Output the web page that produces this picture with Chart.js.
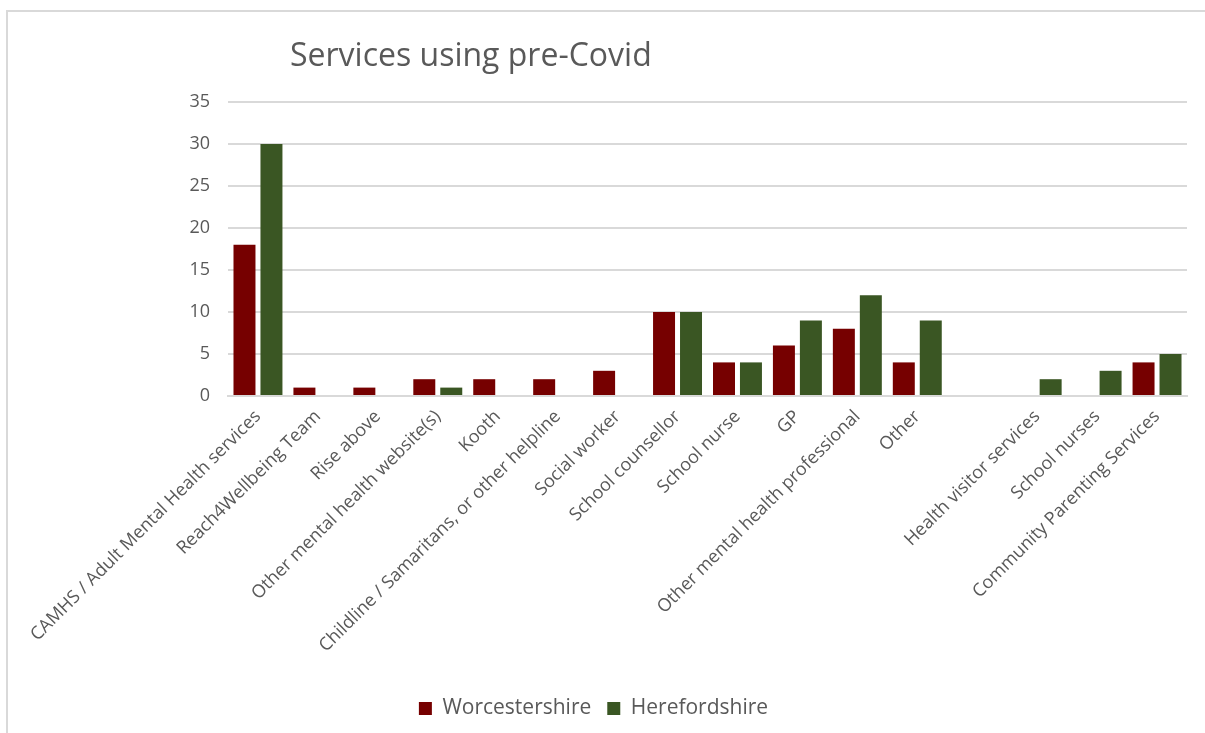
<!DOCTYPE html>
<html>
<head>
<meta charset="utf-8">
<title>Services using pre-Covid</title>
<script src="https://cdn.jsdelivr.net/npm/chart.js@4"></script>
<style>
  body { margin: 0; background: #fff; }
  .frame {
    position: absolute; left: 6px; top: 10px; width: 1205px; height: 733px;
    border-left: 2px solid #d9d9d9; border-top: 2px solid #d9d9d9;
  }
  .wrap { position: absolute; left: 0; top: 0; width: 1205px; height: 733px; }
</style>
</head>
<body>
<div class="frame"></div>
<div class="wrap"><canvas id="myChart"></canvas></div>
<script>
const chartTitle = 'Services using pre-Covid';

// blank entry keeps the gap before the last three services
const services = [
    'CAMHS / Adult Mental Health services',
    'Reach4Wellbeing Team',
    'Rise above',
    'Other mental health website(s)',
    'Kooth',
    'Childline / Samaritans, or other helpline',
    'Social worker',
    'School counsellor',
    'School nurse',
    'GP',
    'Other mental health professional',
    'Other',
    '',
    'Health visitor services',
    'School nurses',
    'Community Parenting Services'
];

const worcestershire = [18, 1, 1, 2, 2, 2, 3, 10, 4, 6, 8, 4, null, null, null, 4];
const herefordshire  = [30, null, null, 1, null, null, null, 10, 4, 9, 12, 9, null, 2, 3, 5];

const yTicks = [0, 5, 10, 15, 20, 25, 30, 35];

const textGrey = '#595959';
const gridGrey = '#d9d9d9';

const titlePlugin = {
    id: 'leftTitle',
    afterDraw(chart) {
        const c = chart.ctx;
        c.save();
        c.fillStyle = textGrey;
        c.font = '32px "Open Sans"';
        c.textBaseline = 'alphabetic';
        c.fillText(chartTitle, 290, 66);
        c.restore();
    }
};

const ctx = document.getElementById('myChart');

new Chart(ctx, {
    type: 'bar',
    data: {
        labels: services,
        datasets: [{
            label: 'Worcestershire',
            data: worcestershire,
            backgroundColor: '#760000',
            categoryPercentage: 0.9,
            barPercentage: 0.815
        }, {
            label: 'Herefordshire',
            data: herefordshire,
            backgroundColor: '#3a5623',
            categoryPercentage: 0.9,
            barPercentage: 0.815
        }]
    },
    options: {
        responsive: true,
        maintainAspectRatio: false,
        animation: false,
        layout: { padding: { top: 102, right: 18, left: 0, bottom: 4 } },
        plugins: {
            title: { display: false },
            tooltip: { enabled: false },
            legend: {
                position: 'bottom',
                labels: {
                    color: textGrey,
                    font: { family: 'Open Sans', size: 21 },
                    boxWidth: 13,
                    boxHeight: 13,
                    padding: 16
                }
            }
        },
        scales: {
            x: {
                grid: { display: false },
                border: { display: true, color: gridGrey, width: 2 },
                ticks: {
                    color: textGrey,
                    font: { family: 'Open Sans', size: 18 },
                    maxRotation: 45,
                    minRotation: 45,
                    autoSkip: false,
                    padding: 2
                },
                afterFit(scale) {
                    scale.height = 286;
                    scale.paddingLeft = 0;
                    scale.paddingRight = 0;
                }
            },
            y: {
                min: 0,
                max: 35,
                afterBuildTicks(scale) {
                    scale.ticks = yTicks.map(v => ({ value: v }));
                },
                grid: { color: gridGrey, lineWidth: 2, drawTicks: false },
                border: { display: false },
                ticks: {
                    color: textGrey,
                    font: { family: 'Open Sans', size: 18 },
                    padding: 18
                },
                afterFit(scale) {
                    scale.width = 228;
                }
            }
        }
    },
    plugins: [titlePlugin]
});
</script>
</body>
</html>
